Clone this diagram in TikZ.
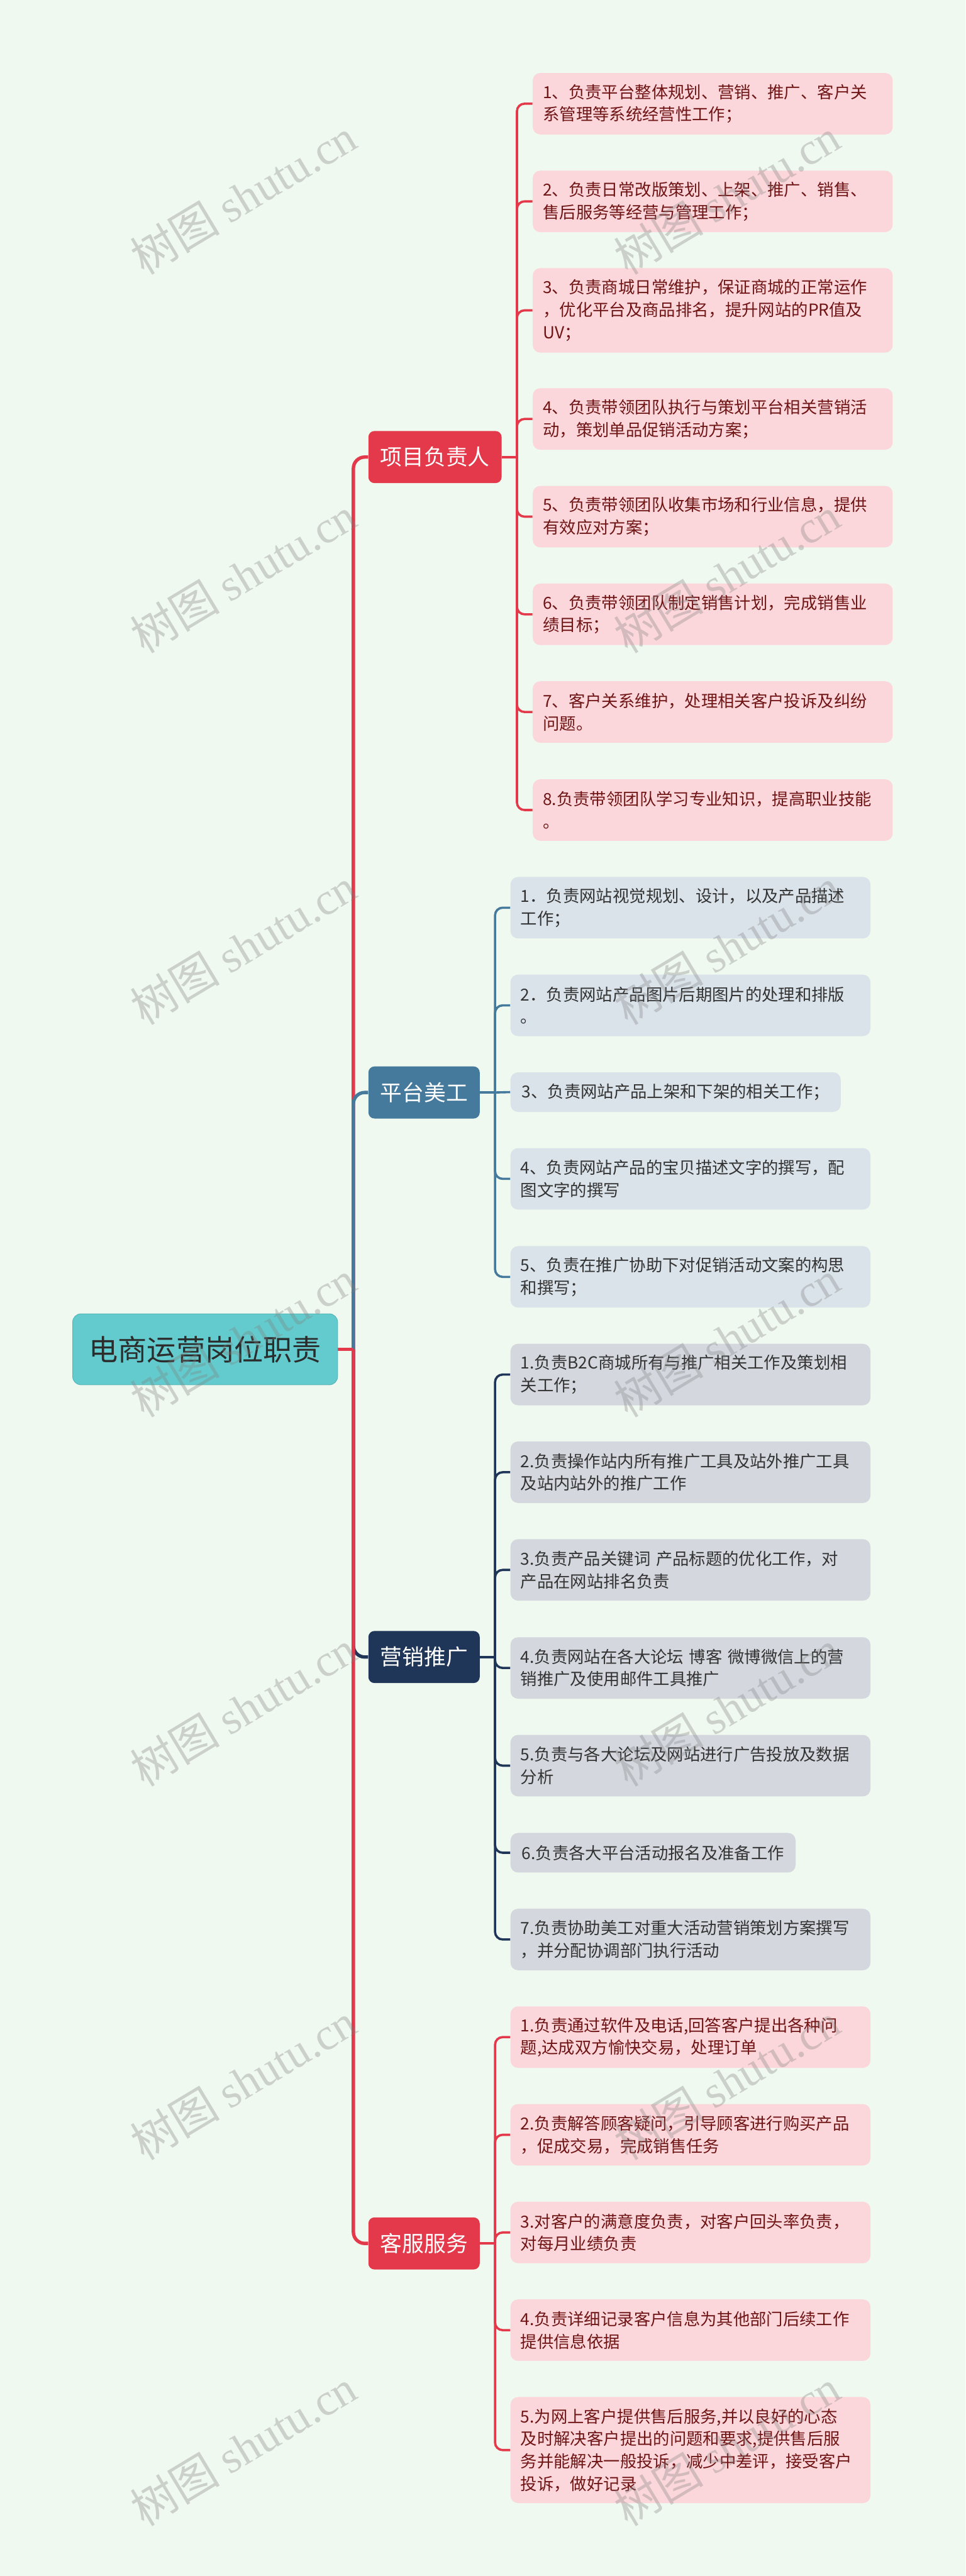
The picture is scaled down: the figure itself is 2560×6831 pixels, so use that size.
\documentclass[tikz,border=0pt]{standalone}
\usepackage{fontspec}
\setmainfont{Noto Sans CJK SC}
\newfontfamily\wmlatin{Liberation Serif}
\usetikzlibrary{calc}
\pgfdeclarelayer{back}
\pgfdeclarelayer{lines}
\pgfdeclarelayer{front}
\pgfsetlayers{back,lines,main,front}
\definecolor{bgc}{HTML}{F0F9EF}
\definecolor{redc}{HTML}{E3394A}
\definecolor{bluec}{HTML}{467A9D}
\definecolor{navyc}{HTML}{1F3658}
\definecolor{tealc}{HTML}{63CBCD}
\definecolor{roottext}{HTML}{2C2C2C}
\definecolor{pinkc}{HTML}{FBD7DB}
\definecolor{maroonc}{HTML}{701515}
\definecolor{bluegray}{HTML}{DAE3EA}
\definecolor{grayc}{HTML}{D4D8DE}
\definecolor{darktext}{HTML}{333333}
\tikzset{
  rootbox/.style={fill=tealc, draw=tealc!90!black, line width=0.5pt, rounded corners=0.22cm,
    minimum width=7.02cm, minimum height=1.88cm, inner sep=0,
    text=roottext, font=\fontsize{21.9pt}{26pt}\selectfont},
  lonebox/.style={fill=#1, rounded corners=0.16cm, minimum height=1.38cm, inner sep=0,
    text=white, font=\fontsize{16.5pt}{20pt}\selectfont},
  kid/.style={rounded corners=0.2cm, align=left, inner xsep=0.27cm, inner ysep=0,
    anchor=west, font=\fontsize{12.5pt}{16.9pt}\selectfont},
  wide/.style={text width=9cm},
  hone/.style={minimum height=1.05cm},
  htwo/.style={minimum height=1.63cm},
  hthree/.style={minimum height=2.24cm},
  hfour/.style={minimum height=2.81cm},
  redkid/.style={kid, fill=pinkc, text=maroonc},
  bluekid/.style={kid, fill=bluegray, text=darktext},
  graykid/.style={kid, fill=grayc, text=darktext},
  trunkline/.style={draw=#1, line width=0.09cm, rounded corners=0.3cm},
  kidline/.style={draw=#1, line width=0.06cm, rounded corners=0.2cm},
  wmark/.style={rotate=31, text=black!50, opacity=0.33, inner sep=0,
    font=\fontsize{34pt}{40pt}\selectfont}
}
\newcommand{\wmtext}{树图 {\wmlatin shutu.cn}}
\begin{document}
\begin{tikzpicture}[x=0.01cm,y=-0.01cm]
\begin{pgfonlayer}{back}
\fill[bgc] (0,0) rectangle (2560,6831);
\end{pgfonlayer}
\useasboundingbox (0,0) rectangle (2560,6831);

% root
\node[rootbox] (root) at (544,3578) {电商运营岗位职责};

% level 1
\node[lonebox=redc, minimum width=3.53cm] (n1) at (1153.5,1212) {项目负责人};
\node[lonebox=bluec, minimum width=2.95cm] (n2) at (1124.5,2897) {平台美工};
\node[lonebox=navyc, minimum width=2.95cm] (n3) at (1124.5,4394) {营销推广};
\node[lonebox=redc, minimum width=2.95cm] (n4) at (1124.5,5949) {客服服务};

% 项目负责人 children
\node[redkid, wide, htwo] (a1) at (1412,275) {1、负责平台整体规划、营销、推广、客户关\\系管理等系统经营性工作；};
\node[redkid, wide, htwo] (a2) at (1412,534) {2、负责日常改版策划、上架、推广、销售、\\售后服务等经营与管理工作；};
\node[redkid, wide, hthree] (a3) at (1412,823) {3、负责商城日常维护，保证商城的正常运作\\，优化平台及商品排名，提升网站的PR值及\\UV；};
\node[redkid, wide, htwo] (a4) at (1412,1111) {4、负责带领团队执行与策划平台相关营销活\\动，策划单品促销活动方案；};
\node[redkid, wide, htwo] (a5) at (1412,1370) {5、负责带领团队收集市场和行业信息，提供\\有效应对方案；};
\node[redkid, wide, htwo] (a6) at (1412,1629) {6、负责带领团队制定销售计划，完成销售业\\绩目标；};
\node[redkid, wide, htwo] (a7) at (1412,1888) {7、客户关系维护，处理相关客户投诉及纠纷\\问题。};
\node[redkid, wide, htwo] (a8) at (1412,2148) {8.负责带领团队学习专业知识，提高职业技能\\。};

% 平台美工 children
\node[bluekid, wide, htwo] (b1) at (1353,2407) {1．负责网站视觉规划、设计，以及产品描述\\工作；};
\node[bluekid, wide, htwo] (b2) at (1353,2666) {2．负责网站产品图片后期图片的处理和排版\\。};
\node[bluekid, hone, inner xsep=0.3cm] (b3) at (1353,2896) {3、负责网站产品上架和下架的相关工作；};
\node[bluekid, wide, htwo] (b4) at (1353,3126) {4、负责网站产品的宝贝描述文字的撰写，配\\图文字的撰写};
\node[bluekid, wide, htwo] (b5) at (1353,3386) {5、负责在推广协助下对促销活动文案的构思\\和撰写；};

% 营销推广 children
\node[graykid, wide, htwo] (c1) at (1353,3645) {1.负责B2C商城所有与推广相关工作及策划相\\关工作；};
\node[graykid, wide, htwo] (c2) at (1353,3904) {2.负责操作站内所有推广工具及站外推广工具\\及站内站外的推广工作};
\node[graykid, wide, htwo] (c3) at (1353,4163) {3.负责产品关键词~产品标题的优化工作，对\\产品在网站排名负责};
\node[graykid, wide, htwo] (c4) at (1353,4423) {4.负责网站在各大论坛~博客~微博微信上的营\\销推广及使用邮件工具推广};
\node[graykid, wide, htwo] (c5) at (1353,4682) {5.负责与各大论坛及网站进行广告投放及数据\\分析};
\node[graykid, hone, inner xsep=0.3cm] (c6) at (1353,4913) {6.负责各大平台活动报名及准备工作};
\node[graykid, wide, htwo] (c7) at (1353,5143) {7.负责协助美工对重大活动营销策划方案撰写\\，并分配协调部门执行活动};

% 客服服务 children
\node[redkid, wide, htwo] (d1) at (1353,5402) {1.负责通过软件及电话,回答客户提出各种问\\题,达成双方愉快交易，处理订单};
\node[redkid, wide, htwo] (d2) at (1353,5661) {2.负责解答顾客疑问，引导顾客进行购买产品\\，促成交易，完成销售任务};
\node[redkid, wide, htwo] (d3) at (1353,5920) {3.对客户的满意度负责，对客户回头率负责，\\对每月业绩负责};
\node[redkid, wide, htwo] (d4) at (1353,6179) {4.负责详细记录客户信息为其他部门后续工作\\提供信息依据};
\node[redkid, wide, hfour] (d5) at (1353,6497) {5.为网上客户提供售后服务,并以良好的心态\\及时解决客户提出的问题和要求,提供售后服\\务并能解决一般投诉，减少中差评，接受客户\\投诉，做好记录};

\begin{pgfonlayer}{lines}
% trunk
\coordinate (t) at ($(root.east)+(41,0)$);
\draw[trunkline=redc] (t) |- (n1.west);
\draw[trunkline=bluec] (t) |- (n2.west);
\draw[trunkline=navyc] (t) |- (n3.west);
\draw[trunkline=redc] (t) |- (n4.west);
\draw[trunkline=redc, rounded corners=0] (root.east) -- (t);
% 项目负责人 bar
\coordinate (ba) at ($(n1.east)+(40,0)$);
\draw[kidline=redc] (n1.east) -- (ba);
\foreach \k in {a1,a2,a3,a4,a5,a6,a7,a8} \draw[kidline=redc] (ba) |- (\k.west);
% 平台美工 bar
\coordinate (bb) at ($(n2.east)+(40,0)$);
\draw[kidline=bluec] (n2.east) -- (bb);
\foreach \k in {b1,b2,b4,b5} \draw[kidline=bluec] (bb) |- (\k.west);
\draw[kidline=bluec] (bb) -- (b3.west);
% 营销推广 bar
\coordinate (bc) at ($(n3.east)+(40,0)$);
\draw[kidline=navyc] (n3.east) -- (bc);
\foreach \k in {c1,c2,c3,c4,c5,c6,c7} \draw[kidline=navyc] (bc) |- (\k.west);
% 客服服务 bar
\coordinate (bd) at ($(n4.east)+(40,0)$);
\draw[kidline=redc] (n4.east) -- (bd);
\foreach \k in {d1,d2,d3,d4,d5} \draw[kidline=redc] (bd) |- (\k.west);
\end{pgfonlayer}

% watermark
\begin{pgfonlayer}{front}
\foreach \yy in {521,1525,2510,3550,4530,5520,6490} {
  \node[wmark] at (645,\yy) {\wmtext};
  \node[wmark] at (1928,\yy) {\wmtext};
}
\end{pgfonlayer}
\end{tikzpicture}
\end{document}
